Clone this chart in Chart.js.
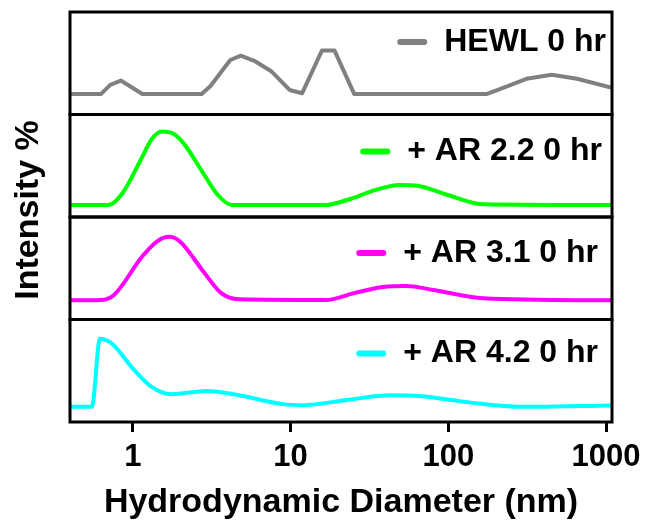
<!DOCTYPE html>
<html>
<head>
<meta charset="utf-8">
<script src="https://cdn.jsdelivr.net/npm/chart.js@4"></script>
<style>
  html, body { margin: 0; padding: 0; background: #fff; }
</style>
</head>
<body>
<canvas id="dlsChart" width="649" height="523"></canvas>
<script>
// size distribution (diameter in nm, intensity in %)
const hewlSize = [0.4, 0.63, 0.72, 0.84, 1.15, 2.73, 3.11, 4.15, 4.84, 5.99, 7.59, 9.86, 11.85, 15.8, 19.0, 25.3, 176, 206, 313, 452, 654, 1090];
const hewlIntensity = [0, 0, 2.5, 3.7, 0, 0, 2.2, 9.4, 10.6, 9.0, 6.2, 1.1, 0.2, 12.0, 12.0, 0, 0, 1.1, 4.2, 5.3, 4.2, 1.7];

const ar22Size = [0.4, 0.70, 0.86, 1.15, 1.31, 1.53, 1.79, 2.10, 2.80, 3.46, 4.26, 16.6, 22.8, 34.7, 48.7, 65.1, 98.8, 167, 1090];
const ar22Intensity = [0, 0, 3.3, 13.4, 18.1, 20.4, 19.9, 17.1, 8.8, 2.8, 0, 0, 1.4, 4.2, 5.6, 5.3, 2.8, 0.2, 0];

const ar31Size = [0.4, 0.63, 0.76, 1.15, 1.42, 1.70, 1.99, 2.80, 3.64, 4.73, 16.6, 25.3, 38.5, 54.2, 80.2, 167, 1090];
const ar31Intensity = [0, 0.1, 1.5, 12.2, 16.3, 17.6, 16.3, 8.0, 2.0, 0.3, 0.1, 2.0, 3.7, 4.0, 2.9, 0.6, 0];

const ar42Size = [0.4, 0.55, 0.62, 0.74, 0.98, 1.31, 1.75, 2.95, 4.73, 8.87, 12.1, 22.8, 42.7, 65.1, 143, 282, 1090];
const ar42Intensity = [0, 0, 18.9, 17.5, 11.1, 5.6, 3.5, 4.4, 3.2, 0.75, 0.47, 1.9, 3.2, 3.0, 1.1, 0, 0.4];

const xTicks = [1, 10, 100, 1000];
const panelLabels = ['HEWL 0 hr', '+ AR 2.2 0 hr', '+ AR 3.1 0 hr', '+ AR 4.2 0 hr'];

const FONT = "'Liberation Sans', Arial, sans-serif";

// one entry per panel, top to bottom
const panels = [
    { id: 'y1', sizes: hewlSize, values: hewlIntensity, color: '#808080', smooth: false, min: -5.7, max: 22.7, textRight: 606, textDy: 30 },
    { id: 'y2', sizes: ar22Size, values: ar22Intensity, color: '#00ff00', smooth: true, min: -3.3, max: 25.1, textRight: 602, textDy: 37 },
    { id: 'y3', sizes: ar31Size, values: ar31Intensity, color: '#ff00ff', smooth: true, min: -5.3, max: 23.1, textRight: 598, textDy: 36 },
    { id: 'y4', sizes: ar42Size, values: ar42Intensity, color: '#00ffff', smooth: true, min: -4.2, max: 24.2, textRight: 598, textDy: 34 }
];

// boxes, per-panel legends and the shared y title
const panelFrames = {
    id: 'panelFrames',
    afterDatasetsDraw(chart) {
        const ctx = chart.ctx;
        const area = chart.chartArea;
        ctx.save();
        ctx.strokeStyle = '#000';
        ctx.fillStyle = '#000';
        ctx.lineWidth = 3;
        panels.forEach((p, i) => {
            const s = chart.scales[p.id];
            ctx.strokeRect(area.left, s.top, area.right - area.left, s.bottom - s.top);

            ctx.font = 'bold 32px ' + FONT;
            ctx.textAlign = 'right';
            ctx.textBaseline = 'middle';
            const ty = s.top + p.textDy;
            ctx.fillText(panelLabels[i], p.textRight, ty);
            const w = ctx.measureText(panelLabels[i]).width;
            const x1 = p.textRight - w - 17;
            ctx.beginPath();
            ctx.lineCap = 'round';
            ctx.lineWidth = 6;
            ctx.strokeStyle = p.color;
            ctx.moveTo(x1 - 27, ty);
            ctx.lineTo(x1 - 3, ty);
            ctx.stroke();
            ctx.strokeStyle = '#000';
            ctx.lineWidth = 3;
        });

        ctx.translate(29, 210);
        ctx.rotate(-Math.PI / 2);
        ctx.font = 'bold 34px ' + FONT;
        ctx.textAlign = 'center';
        ctx.textBaseline = 'middle';
        ctx.fillText('Intensity %', 0, 0);
        ctx.restore();
    }
};

function panelAxis(p) {
    return {
        type: 'linear',
        position: 'left',
        stack: 'panels',
        stackWeight: 1,
        min: p.min,
        max: p.max,
        ticks: { display: false },
        grid: { display: false, drawTicks: false },
        border: { display: false }
    };
}

function createChart() {
    const scales = {
        x: {
            type: 'logarithmic',
            min: 0.4,
            max: 1090,
            bounds: 'data',
            afterBuildTicks: axis => {
                axis.ticks = xTicks.map(v => ({ value: v }));
            },
            // fixed band under the plot so the frame bottom lands where the original has it
            afterFit: axis => {
                axis.height = 101;
                axis.paddingLeft = 0;
                axis.paddingRight = 0;
            },
            grid: { display: true, drawOnChartArea: false, drawTicks: true, tickLength: 10, lineWidth: 3, color: '#000' },
            border: { display: false },
            ticks: {
                color: '#000',
                padding: 7,
                maxRotation: 0,
                autoSkip: false,
                font: { family: FONT, size: 31, weight: 'bold' },
                callback: v => String(v)
            },
            title: {
                display: true,
                text: 'Hydrodynamic Diameter (nm)',
                color: '#000',
                padding: { top: 0, bottom: 0 },
                font: { family: FONT, size: 34, weight: 'bold' }
            }
        }
    };
    // first stacked axis ends up at the bottom, so add them bottom-up
    panels.slice().reverse().forEach(p => { scales[p.id] = panelAxis(p); });

    new Chart(document.getElementById('dlsChart'), {
        type: 'line',
        data: {
            datasets: panels.map((p, i) => ({
                label: panelLabels[i],
                data: p.sizes.map((x, j) => ({ x: x, y: p.values[j] })),
                yAxisID: p.id,
                borderColor: p.color,
                borderWidth: 4,
                borderJoinStyle: 'round',
                pointRadius: 0,
                fill: false,
                tension: p.smooth ? 0.4 : 0,
                cubicInterpolationMode: p.smooth ? 'monotone' : 'default'
            }))
        },
        options: {
            responsive: false,
            animation: false,
            devicePixelRatio: 1,
            layout: { padding: { left: 70, right: 37, top: 12, bottom: 0 } },
            plugins: {
                legend: { display: false },
                tooltip: { enabled: false }
            },
            scales: scales
        },
        plugins: [panelFrames]
    });
}

document.addEventListener('DOMContentLoaded', createChart);
</script>
</body>
</html>
